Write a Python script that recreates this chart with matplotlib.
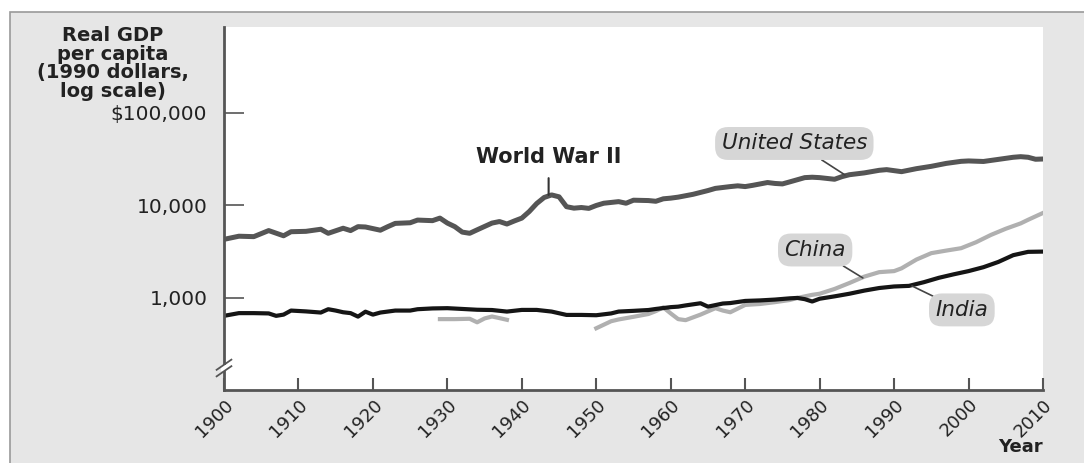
import matplotlib.pyplot as plt
import matplotlib.transforms as mtransforms
from matplotlib.patches import Rectangle
import numpy as np

# Real GDP per capita, 1990 dollars
us_years = [1900, 1902, 1904, 1906, 1908, 1909, 1911, 1913, 1914, 1916, 1917, 1918,
            1919, 1921, 1922, 1923, 1925, 1926, 1928, 1929, 1930, 1931, 1932, 1933,
            1934, 1936, 1937, 1938, 1939, 1940, 1941, 1942, 1943, 1944, 1945, 1946,
            1947, 1948, 1949, 1950, 1951, 1953, 1954, 1955, 1957, 1958, 1959, 1960,
            1961, 1963, 1965, 1966, 1968, 1969, 1970, 1971, 1973, 1974, 1975, 1976,
            1978, 1979, 1980, 1982, 1983, 1984, 1986, 1988, 1989, 1991, 1993, 1995,
            1997, 1999, 2000, 2002, 2004, 2006, 2007, 2008, 2009, 2010]
us_gdp = [4300, 4650, 4600, 5350, 4700, 5200, 5250, 5530, 5000, 5670, 5350, 5900,
          5850, 5400, 5900, 6400, 6500, 6950, 6850, 7300, 6450, 5900, 5150, 5000,
          5450, 6450, 6700, 6300, 6800, 7300, 8600, 10500, 12200, 13000, 12400, 9700,
          9350, 9500, 9300, 10000, 10570, 11000, 10570, 11400, 11300, 11100, 11800, 12000,
          12300, 13200, 14500, 15300, 16000, 16300, 16000, 16500, 17700, 17300, 17100, 18000,
          20000, 20200, 20000, 19200, 20500, 21500, 22500, 24000, 24400, 23200, 25000, 26500,
          28500, 30000, 30300, 29900, 31500, 33200, 33700, 33200, 31600, 31800]

india_years = [1900, 1902, 1904, 1906, 1907, 1908, 1909, 1911, 1913, 1914, 1915, 1916,
               1917, 1918, 1919, 1920, 1921, 1923, 1925, 1926, 1928, 1930, 1932, 1934,
               1936, 1938, 1940, 1942, 1944, 1946, 1948, 1950, 1952, 1953, 1955, 1957,
               1958, 1960, 1961, 1962, 1964, 1965, 1967, 1968, 1970, 1972, 1974, 1976,
               1977, 1978, 1979, 1980, 1982, 1984, 1986, 1988, 1990, 1991, 1992, 1994,
               1996, 1998, 2000, 2002, 2004, 2006, 2008, 2010]
india_gdp = [640, 685, 685, 680, 640, 660, 730, 715, 695, 755, 730, 700,
             685, 628, 710, 660, 695, 730, 730, 755, 770, 775, 760, 745,
             740, 712, 742, 742, 712, 655, 655, 650, 680, 712, 725, 740,
             760, 795, 805, 830, 876, 805, 870, 880, 928, 940, 960, 990,
             1000, 970, 915, 980, 1040, 1110, 1200, 1280, 1330, 1340, 1350, 1480,
             1650, 1800, 1950, 2150, 2450, 2900, 3150, 3170]

# no data for China 1939-1949 (nan breaks the line)
china_years = [1929, 1931, 1933, 1934, 1935, 1936, 1937, 1938, 1945,
               1950, 1952, 1953, 1955, 1957, 1958, 1959, 1960, 1961, 1962, 1964,
               1966, 1967, 1968, 1970, 1972, 1974, 1976, 1977, 1979, 1980, 1982,
               1984, 1986, 1988, 1990, 1991, 1993, 1995, 1997, 1999, 2001, 2003,
               2005, 2007, 2008, 2010]
china_gdp = [590, 590, 595, 545, 600, 630, 605, 580, np.nan,
             470, 560, 585, 625, 670, 720, 790, 680, 590, 575, 660,
             775, 730, 700, 840, 860, 900, 950, 1000, 1080, 1110, 1250,
             1450, 1700, 1900, 1950, 2090, 2600, 3050, 3250, 3450, 4000, 4800,
             5600, 6400, 7000, 8300]

xticks = list(range(1900, 2011, 10))
yticks = [1000, 10000, 100000]
ytick_labels = ['1,000', '10,000', '$100,000']

bg = '#e6e6e6'
axis_col = '#555555'
txt = '#222222'

fig = plt.figure(figsize=(10.84, 4.63), dpi=100, facecolor='white')
fig.patches.append(Rectangle((10/1084, -0.1), 1.2, 1.1 - 12/463,
                             transform=fig.transFigure, facecolor=bg,
                             edgecolor='#9a9a9a', linewidth=1.2, zorder=-5))
ax = fig.add_axes([224/1084, 1 - 390/463, (1043 - 224)/1084, (390 - 27)/463])
ax.set_facecolor('white')

ax.plot(us_years, us_gdp, color='#555555', lw=3.6, solid_joinstyle='round')
ax.plot(china_years, china_gdp, color='#b0b0b0', lw=3.0, solid_joinstyle='round')
ax.plot(india_years, india_gdp, color='#151515', lw=3.0, solid_joinstyle='round')

ax.set_yscale('log')
ax.set_xlim(1900, 2010)
ax.set_ylim(101, 851000)
ax.set_xticks(xticks)
ax.set_xticklabels([str(t) for t in xticks], rotation=45, ha='right',
                   rotation_mode='anchor', fontsize=13, color=txt)
shift = mtransforms.ScaledTranslation(13/100, 1/100, fig.dpi_scale_trans)
for lab in ax.get_xticklabels():
    lab.set_transform(lab.get_transform() + shift)
ax.set_yticks(yticks)
ax.set_yticklabels(ytick_labels, fontsize=14.5, color=txt)
ax.minorticks_off()
ax.tick_params(axis='y', direction='in', length=14.5, width=1.2, color=axis_col, pad=12)
ax.tick_params(axis='x', direction='in', length=9, width=1.5, color=axis_col, pad=4)

for s in ['top', 'right']:
    ax.spines[s].set_visible(False)
for s in ['left', 'bottom']:
    ax.spines[s].set_color(axis_col)
    ax.spines[s].set_linewidth(2)

# axis break marks
yb = 22/363
ax.add_patch(Rectangle((-0.004, yb - 0.008), 0.008, 0.016, transform=ax.transAxes,
                       facecolor='white', edgecolor='none', clip_on=False, zorder=5))
for dy in [-0.009, 0.009]:
    ax.plot([-0.009, 0.009], [yb + dy - 0.014, yb + dy + 0.014], transform=ax.transAxes,
            color=axis_col, lw=1.3, clip_on=False, zorder=6)

# y axis title
fig.text(113/1084, 1 - 26/463, 'Real GDP\nper capita\n(1990 dollars,\nlog scale)',
         ha='center', va='top', fontsize=14, fontweight='bold', color=txt,
         linespacing=0.98)
fig.text(1043/1084, 1 - 447/463, 'Year', ha='right', va='center', fontsize=13,
         fontweight='bold', color=txt)

# annotations
ax.annotate('World War II', xy=(1943.6, 13000), xytext=(1943.6, 33400),
            ha='center', va='center', fontsize=15, fontweight='bold', color=txt,
            arrowprops=dict(arrowstyle='-', color='#333333', lw=1.5,
                            shrinkA=6, shrinkB=0))

box = dict(boxstyle='round,pad=0.3,rounding_size=0.6', facecolor='#d6d6d6',
           edgecolor='none')
ax.annotate('United States', xy=(1983.4, 21400), xytext=(1976.6, 46800),
            ha='center', va='center', fontsize=15.5, style='italic', color=txt,
            bbox=box,
            arrowprops=dict(arrowstyle='-', color='#444444', lw=1.2,
                            relpos=(0.62, 0), shrinkA=0, shrinkB=0))
ax.annotate('China', xy=(1985.8, 1645), xytext=(1979.4, 3300),
            ha='center', va='center', fontsize=15.5, style='italic', color=txt,
            bbox=box,
            arrowprops=dict(arrowstyle='-', color='#444444', lw=1.2,
                            relpos=(0.8, 0), shrinkA=0, shrinkB=0))
ax.annotate('India', xy=(1992.4, 1348), xytext=(1999.1, 742),
            ha='center', va='center', fontsize=15.5, style='italic', color=txt,
            bbox=box,
            arrowprops=dict(arrowstyle='-', color='#444444', lw=1.2,
                            relpos=(0.1, 1), shrinkA=0, shrinkB=0))

fig.savefig('out.png', dpi=100, facecolor=fig.get_facecolor())
